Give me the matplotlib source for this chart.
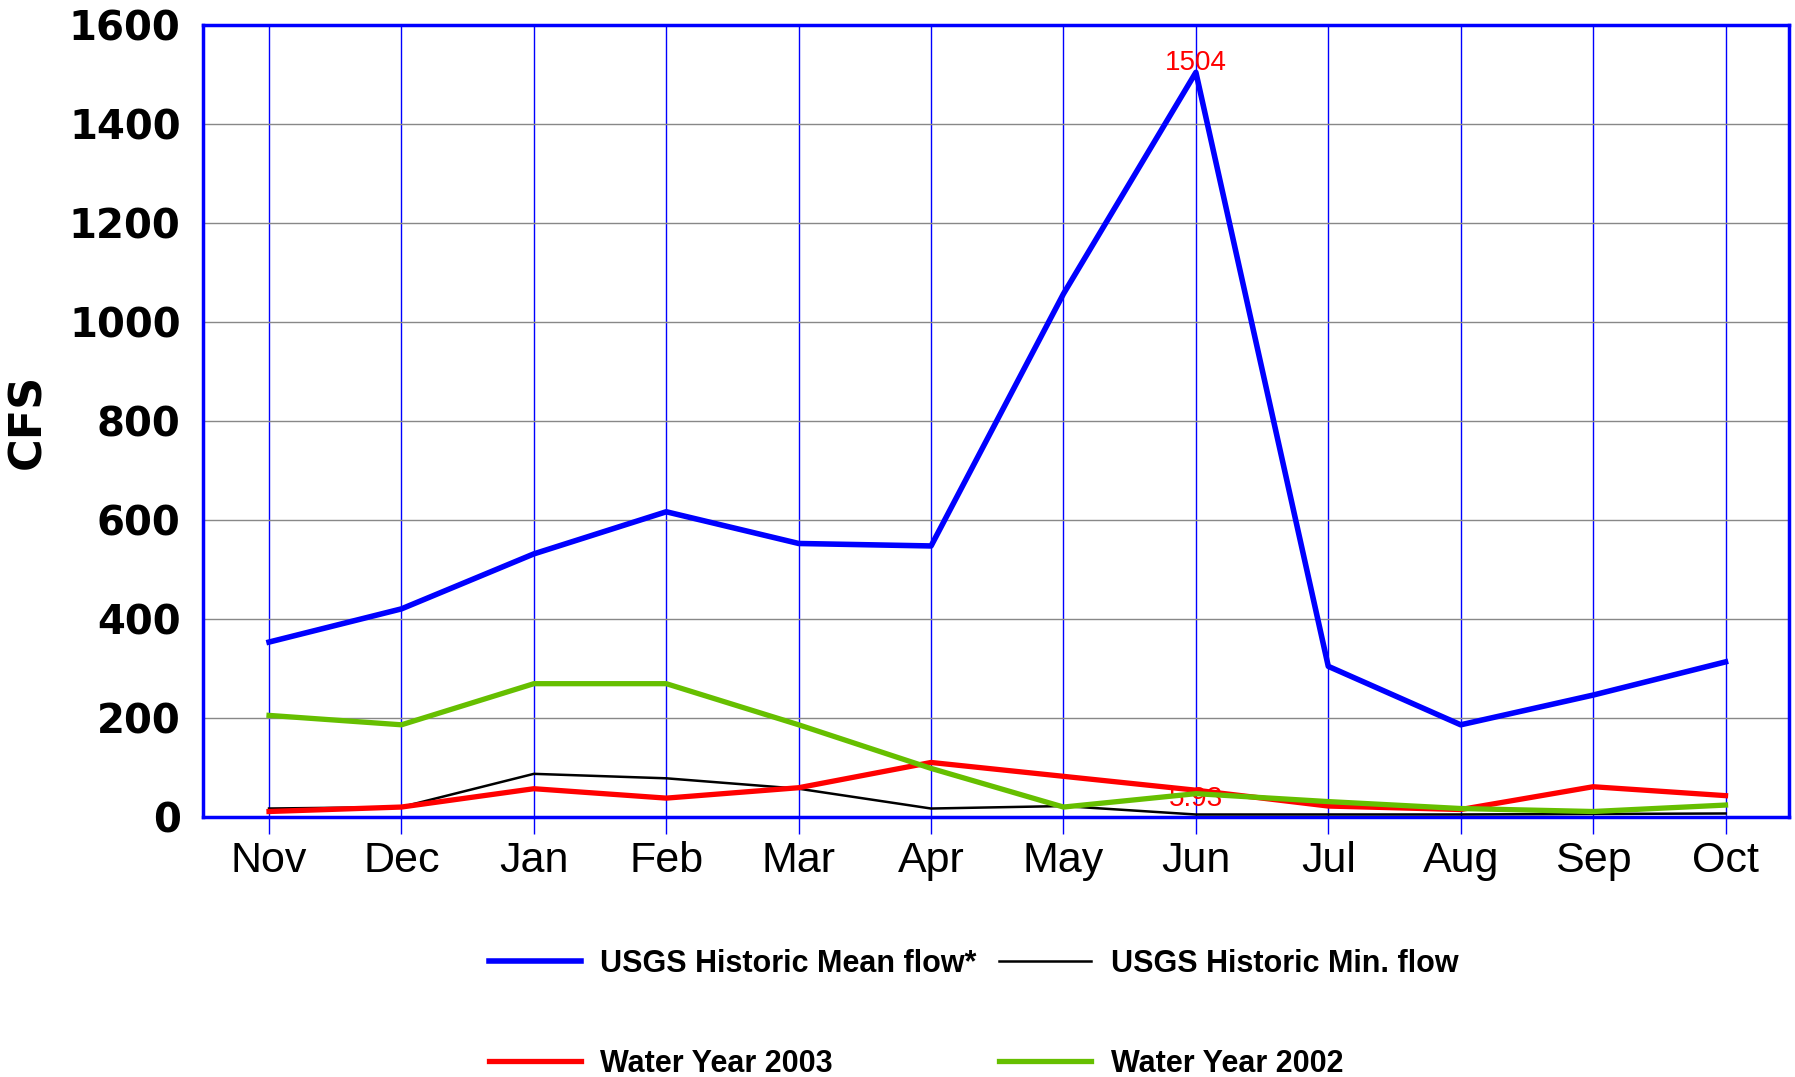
import numpy as np
import matplotlib
matplotlib.use('Agg')
import matplotlib.pyplot as plt

months = ['Nov', 'Dec', 'Jan', 'Feb', 'Mar', 'Apr', 'May', 'Jun', 'Jul', 'Aug', 'Sep', 'Oct']
mean_flow = [354, 421, 532, 617, 553, 548, 1057, 1504, 305, 187, 247, 314]
min_flow = [18, 21, 88, 79, 58, 18, 23, 5.93, 6, 6, 7, 8]
wy_2003 = [12, 21, 58, 39, 60, 111, 83, 55, 23, 16, 62, 44]
wy_2002 = [206, 187, 270, 270, 187, 99, 21, 48, 32, 18, 12, 25]

plt.rcParams['font.family'] = ['Liberation Sans', 'DejaVu Sans']

fig = plt.figure(figsize=(17.95, 10.77), dpi=100)
ax = fig.add_axes([0.113, 0.241, 0.8837, 0.736])

x = np.arange(len(months))
l1, = ax.plot(x, mean_flow, color='#0000ff', lw=4.0, label='USGS Historic Mean flow*', zorder=5)
l2, = ax.plot(x, min_flow, color='black', lw=1.8, label='USGS Historic Min. flow', zorder=4)
l3, = ax.plot(x, wy_2003, color='#ff0000', lw=3.8, label='Water Year 2003', zorder=4)
l4, = ax.plot(x, wy_2002, color='#66bf00', lw=3.8, label='Water Year 2002', zorder=4)

# peak / minimum labels
i_max = int(np.argmax(mean_flow))
ax.annotate(f'{mean_flow[i_max]:g}', (x[i_max], mean_flow[i_max]), xytext=(0, 2),
            textcoords='offset points', ha='center', va='baseline', color='#ff0000', fontsize=20)
i_min = int(np.argmin(min_flow))
ax.annotate(f'{min_flow[i_min]:g}', (x[i_min], min_flow[i_min]), xytext=(0, 6),
            textcoords='offset points', ha='center', va='baseline', color='#ff0000', fontsize=20, zorder=3)

ax.set_xlim(-0.5, 11.48)
ax.set_ylim(0, 1600)
ax.set_xticks(x)
ax.set_xticklabels(months, fontsize=31)
ax.set_yticks(np.arange(0, 1601, 200))
ax.set_yticklabels([str(v) for v in range(0, 1601, 200)], fontsize=29, fontweight='bold',
                   family='DejaVu Sans')
ax.tick_params(axis='x', length=12, width=1, color='#0000ff', pad=5)
ax.tick_params(axis='y', length=0, pad=16)

ax.set_axisbelow(True)
ax.xaxis.grid(True, color='#0000ff', lw=1)
ax.yaxis.grid(True, color='#888888', lw=1)
for s in ax.spines.values():
    s.set_color('#0000ff')
    s.set_linewidth(2.5)

ax.set_ylabel('CFS', fontsize=32, fontweight='bold', family='DejaVu Sans')
ax.yaxis.set_label_coords(-0.097, 0.5)

fig.legend(handles=[l1, l3, l2, l4], loc='upper left', bbox_to_anchor=(0.2724, 0.119),
           ncol=2, frameon=False, borderpad=0, borderaxespad=0,
           prop={'size': 22, 'weight': 'bold'}, handlelength=3.0, handletextpad=0.64,
           columnspacing=0.75, labelspacing=2.3)

fig.savefig('out.png', dpi=100)
